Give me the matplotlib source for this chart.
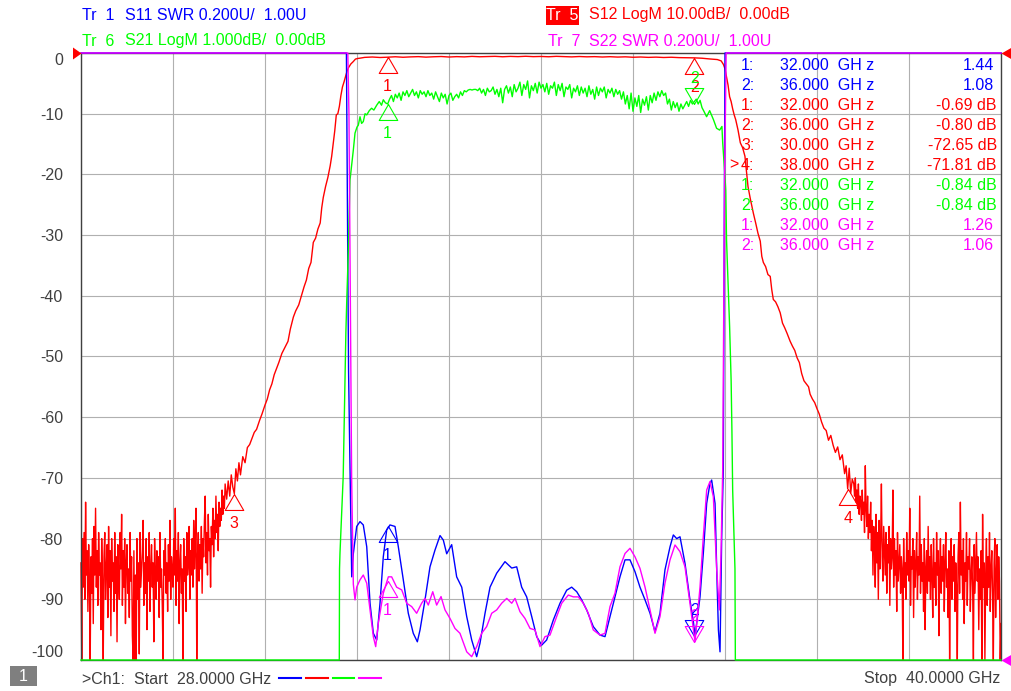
import numpy as np
import matplotlib.pyplot as plt
from matplotlib.patches import Rectangle, Polygon
from matplotlib.lines import Line2D

plt.rcParams['font.family'] = ['Liberation Sans', 'DejaVu Sans']

W, H = 1012, 691
BLUE = '#0000ff'
RED = '#ff0000'
GREEN = '#00ff00'
MAGENTA = '#ff00ff'
GREY = '#404040'
FS = 11.5

f_start, f_stop = 28.0, 40.0

# ---- Tr 5: S12 LogM (dB), 10 dB/div, ref 0 dB at top ----
# noise floor below the passband, read every 0.01 GHz
s12_noise_lo = [-84, -101, -80, -88, -79, -90, -74, -86, -82, -92,
                -81, -87, -101, -83, -89, -80, -94, -78, -86, -75,
                -88, -82, -91, -79, -86, -84, -95, -80, -87, -101,
                -83, -79, -90, -85, -81, -93, -78, -88, -82, -96,
                -80, -87, -84, -92, -79, -89, -83, -97, -81, -86,
                -90, -79, -85, -76, -91, -82, -88, -80, -94, -84,
                -81, -89, -85, -93, -79, -87, -83, -96, -101, -82,
                -101, -86, -101, -80, -90, -84, -99, -79, -88, -85,
                -82, -77, -91, -84, -89, -80, -95, -83, -87, -79,
                -92, -85, -81, -88, -84, -97, -80, -86, -90, -82,
                -87, -83, -93, -79, -88, -85, -91, -101, -82, -86,
                -80, -89, -84, -92, -81, -87, -77, -90, -83, -85,
                -88, -80, -86, -75, -91, -82, -87, -79, -94, -84,
                -81, -89, -85, -101, -80, -87, -83, -92, -79, -86,
                -84, -78, -90, -82, -86, -80, -88, -77, -85, -81,
                -75, -101, -83, -79, -87, -81, -85, -78, -89, -80,
                -83, -77, -73, -84, -79, -86, -76, -82, -80, -88,
                -78, -81, -75, -83, -77, -80, -73, -79, -76, -82,
                -74, -78, -75, -77, -72, -76, -73, -75, -71]
s12_noise_lo_f = np.linspace(28.0, 29.88, len(s12_noise_lo))

s12_skirt_lo_f = [29.90, 29.92, 29.94, 29.96, 29.98, 30.00, 30.02, 30.04, 30.06, 30.08,
                  30.11, 30.14, 30.17, 30.20, 30.23, 30.26, 30.29, 30.33, 30.36, 30.40,
                  30.43, 30.46, 30.49, 30.52, 30.55, 30.58, 30.62, 30.66, 30.70, 30.73,
                  30.77, 30.80, 30.84, 30.88, 30.91, 30.94, 30.97, 31.00, 31.03, 31.06,
                  31.09, 31.12, 31.14, 31.16, 31.19, 31.22, 31.25, 31.27, 31.29, 31.31,
                  31.33, 31.35, 31.37, 31.39, 31.41, 31.43, 31.45, 31.47, 31.49, 31.52,
                  31.55, 31.58, 31.61, 31.64]
s12_skirt_lo = [-73.5, -70.5, -73, -69.5, -71.5, -72.6, -68.5, -70.5, -67.5, -69.5,
                -66.5, -67.5, -65, -64.5, -63.5, -62.5, -62, -60.5, -59.5, -58,
                -57, -55.5, -54.5, -53, -52, -51, -49.5, -48.5, -47.5, -45.5,
                -43.5, -42.5, -41.5, -39.8, -38.5, -37.4, -35.5, -34.5, -31.2, -30.5,
                -29, -28, -25.5, -23.8, -22, -20.5, -18.6, -17, -14.9, -12.8,
                -10.2, -10, -8.8, -7, -5.6, -4.8, -3.9, -3.0, -2.4, -1.8,
                -1.43, -1.0, -0.9, -0.85]

s12_pass = [-0.72, -0.66, -0.74, -0.69, -0.62, -0.70, -0.64, -0.60, -0.68, -0.62,
            -0.58, -0.66, -0.60, -0.64, -0.56, -0.62, -0.58, -0.55, -0.62, -0.56,
            -0.60, -0.54, -0.60, -0.57, -0.62, -0.55, -0.60, -0.64, -0.58, -0.63,
            -0.60, -0.66, -0.61, -0.67, -0.63, -0.70, -0.66, -0.72, -0.68, -0.74,
            -0.70, -0.76, -0.78, -0.80, -0.86, -0.98, -1.08]
s12_pass_f = np.linspace(31.7, 36.3, len(s12_pass))

s12_skirt_hi_f = [36.35, 36.38, 36.40, 36.42, 36.44, 36.46, 36.48, 36.50, 36.52, 36.54,
                  36.57, 36.60, 36.63, 36.66, 36.68, 36.70, 36.73, 36.77, 36.80, 36.83,
                  36.86, 36.88, 36.90, 36.93, 36.96, 36.99, 37.01, 37.03, 37.06, 37.09,
                  37.12, 37.15, 37.18, 37.21, 37.25, 37.28, 37.31, 37.34, 37.37, 37.40,
                  37.43, 37.46, 37.49, 37.51, 37.54, 37.57, 37.60, 37.63, 37.66, 37.69,
                  37.72, 37.75, 37.78, 37.81, 37.84, 37.87, 37.90, 37.93, 37.96, 37.98,
                  38.00, 38.02, 38.04, 38.06]
s12_skirt_hi = [-1.3, -1.9, -2.6, -4.0, -5.3, -7.2, -8.0, -9.2, -10.2, -11.0,
                -12.7, -14.8, -15.6, -17.0, -19.5, -22.0, -24.0, -26.4, -28.0, -29.7,
                -31.0, -33.5, -34.5, -35.2, -36.5, -36.8, -39.0, -40.6, -41.0, -41.8,
                -42.8, -44.5, -45.3, -46.2, -47.5, -48.3, -49.0, -50.2, -51.0, -52.8,
                -54.0, -54.5, -55.0, -56.2, -57.0, -57.6, -58.6, -59.5, -60.8, -61.8,
                -62.2, -63.8, -63.0, -64.6, -65.8, -64.9, -67.0, -66.2, -69.3, -68.0,
                -71.8, -68.4, -72.5, -70.2]

# noise floor above the passband, read every 0.01 GHz
s12_noise_hi = [-71, -73, -70, -74, -72, -75, -71, -76, -73, -74,
                -77, -72, -76, -74, -79, -68, -75, -78, -73, -80,
                -76, -79, -74, -82, -77, -86, -78, -81, -88, -76,
                -84, -79, -90, -77, -85, -80, -71, -83, -87, -78,
                -82, -86, -79, -89, -81, -84, -78, -91, -80, -85,
                -83, -72, -88, -80, -86, -82, -92, -79, -87, -84,
                -81, -89, -83, -85, -101, -80, -88, -84, -90, -79,
                -86, -82, -87, -75, -91, -83, -85, -80, -93, -82,
                -88, -84, -79, -90, -83, -86, -73, -89, -81, -87,
                -84, -92, -80, -95, -85, -82, -89, -78, -87, -83,
                -90, -81, -86, -93, -80, -88, -84, -91, -79, -86,
                -82, -96, -85, -80, -89, -83, -87, -81, -92, -84,
                -79, -88, -85, -93, -82, -101, -86, -80, -90, -83,
                -87, -81, -92, -84, -88, -101, -83, -79, -89, -74,
                -86, -82, -90, -80, -94, -84, -87, -79, -91, -83,
                -85, -80, -92, -86, -83, -88, -101, -81, -89, -84,
                -79, -87, -83, -95, -85, -90, -82, -101, -76, -88,
                -84, -101, -86, -80, -91, -83, -88, -79, -92, -85,
                -82, -89, -101, -84, -80, -93, -86, -81, -90, -83,
                -87, -101, -94]
s12_noise_hi_f = np.linspace(38.08, 40.0, len(s12_noise_hi))

# ---- Tr 6: S21 LogM (dB), 1 dB/div, ref 0 dB at top ----
s21_edge_lo_f = [28.0, 31.369, 31.372, 31.378, 31.40, 31.42, 31.44, 31.455, 31.466, 31.487,
                 31.509, 31.53, 31.552, 31.574, 31.60, 31.617, 31.639, 31.66, 31.682, 31.705,
                 31.727, 31.76, 31.79, 31.82, 31.857, 31.89, 31.92, 31.943, 31.97, 32.0]
s21_edge_lo = [-10.5, -10.5, -8.5, -8.24, -7.6, -6.98, -5.6, -4.6, -4.1, -3.25,
               -2.09, -1.85, -1.6, -1.32, -1.22, -1.19, -1.05, -1.16, -1.13, -1.0,
               -1.02, -0.95, -0.91, -0.94, -0.86, -0.80, -0.86, -0.77, -0.82, -0.84]
s21_pass = [-0.76, -0.70, -0.80, -0.68, -0.74, -0.66, -0.78, -0.64, -0.70, -0.62,
            -0.72, -0.66, -0.60, -0.70, -0.64, -0.74, -0.62, -0.68, -0.64, -0.72,
            -0.62, -0.70, -0.66, -0.76, -0.64, -0.72, -0.80, -0.66, -0.74, -0.68,
            -0.84, -0.70, -0.66, -0.78, -0.72, -0.68, -0.74, -0.64, -0.70, -0.62,
            -0.64, -0.61, -0.60, -0.61, -0.60, -0.60, -0.62, -0.58, -0.66, -0.60,
            -0.70, -0.58, -0.64, -0.62, -0.56, -0.68, -0.60, -0.72, -0.58, -0.82,
            -0.60, -0.54, -0.66, -0.56, -0.72, -0.52, -0.64, -0.58, -0.48, -0.70,
            -0.52, -0.60, -0.46, -0.74, -0.54, -0.62, -0.50, -0.66, -0.48, -0.58,
            -0.52, -0.64, -0.50, -0.68, -0.54, -0.58, -0.48, -0.70, -0.52, -0.62,
            -0.50, -0.72, -0.56, -0.60, -0.52, -0.74, -0.58, -0.64, -0.54, -0.70,
            -0.56, -0.66, -0.58, -0.72, -0.54, -0.68, -0.60, -0.76, -0.56, -0.70,
            -0.58, -0.64, -0.56, -0.74, -0.60, -0.66, -0.58, -0.72, -0.60, -0.68,
            -0.62, -0.76, -0.64, -0.84, -0.70, -0.92, -0.66, -0.96, -0.74, -0.88,
            -0.70, -0.98, -0.76, -0.86, -0.72, -0.94, -0.70, -0.82, -0.66, -0.78,
            -0.64, -0.72, -0.62, -0.70, -0.66, -0.84, -0.76, -0.94, -0.80, -0.90,
            -0.82, -0.96, -0.84, -0.92, -0.86, -0.80, -0.88, -0.78, -0.84, -0.80,
            -0.76, -0.84, -0.78, -0.90, -0.96]
s21_pass_f = np.linspace(32.025, 36.125, len(s21_pass))
s21_edge_hi_f = [36.16, 36.20, 36.25, 36.29, 36.33, 36.36, 36.37, 36.40, 36.41, 36.42,
                 36.44, 36.46, 36.48, 36.49, 36.50, 36.53, 36.535, 40.0]
s21_edge_hi = [-1.05, -0.95, -1.1, -1.24, -1.27, -1.21, -1.48, -2.04, -2.26, -3.08,
               -3.8, -4.5, -5.4, -6.2, -7.2, -8.5, -10.5, -10.5]

# ---- Tr 1: S11 SWR, 0.2 U/div, ref 1.00 U at bottom ----
s11_f = [28.0, 31.462, 31.475, 31.49, 31.509, 31.531, 31.552, 31.596, 31.639, 31.682,
         31.727, 31.77, 31.813, 31.857, 31.90, 31.943, 31.987, 32.03, 32.096, 32.139,
         32.204, 32.269, 32.334, 32.387, 32.422, 32.487, 32.552, 32.617, 32.683, 32.726,
         32.77, 32.835, 32.90, 32.966, 33.031, 33.096, 33.161, 33.204, 33.27, 33.335,
         33.422, 33.53, 33.618, 33.683, 33.748, 33.813, 33.879, 33.944, 34.009, 34.074,
         34.161, 34.248, 34.335, 34.40, 34.466, 34.531, 34.596, 34.682, 34.77, 34.835,
         34.90, 34.965, 35.03, 35.096, 35.161, 35.226, 35.291, 35.357, 35.422, 35.487,
         35.552, 35.617, 35.683, 35.726, 35.77, 35.813, 35.878, 35.943, 35.99, 36.009,
         36.03, 36.074, 36.117, 36.161, 36.204, 36.226, 36.27, 36.292, 36.314, 36.335,
         36.357, 36.378, 36.39, 36.40, 40.0]
s11_swr = [3.5, 3.5, 2.5, 1.95, 1.63, 1.274, 1.35, 1.44, 1.456, 1.445,
           1.373, 1.187, 1.088, 1.066, 1.187, 1.34, 1.428, 1.445, 1.44, 1.373,
           1.264, 1.154, 1.088, 1.06, 1.099, 1.198, 1.307, 1.362, 1.41, 1.395,
           1.35, 1.38, 1.274, 1.24, 1.143, 1.066, 1.011, 1.055, 1.154, 1.24,
           1.286, 1.324, 1.303, 1.307, 1.24, 1.208, 1.143, 1.077, 1.049, 1.066,
           1.132, 1.187, 1.23, 1.24, 1.225, 1.198, 1.165, 1.11, 1.082, 1.077,
           1.143, 1.208, 1.274, 1.33, 1.33, 1.291, 1.24, 1.198, 1.154, 1.093,
           1.154, 1.297, 1.373, 1.412, 1.40, 1.406, 1.319, 1.198, 1.121, 1.078,
           1.12, 1.208, 1.351, 1.516, 1.582, 1.593, 1.516, 1.297, 1.099, 1.027,
           1.406, 1.626, 2.4, 3.5, 3.5]

# ---- Tr 7: S22 SWR, 0.2 U/div, ref 1.00 U at bottom ----
s22_f = [28.0, 31.48, 31.495, 31.51, 31.53, 31.552, 31.574, 31.596, 31.639, 31.682,
         31.727, 31.77, 31.813, 31.844, 31.878, 31.943, 32.009, 32.052, 32.117, 32.183,
         32.248, 32.313, 32.378, 32.443, 32.487, 32.53, 32.588, 32.639, 32.696, 32.748,
         32.813, 32.878, 32.943, 33.031, 33.096, 33.161, 33.226, 33.291, 33.357, 33.422,
         33.487, 33.553, 33.618, 33.661, 33.726, 33.791, 33.857, 33.922, 33.987, 34.052,
         34.117, 34.204, 34.27, 34.356, 34.422, 34.487, 34.552, 34.617, 34.682, 34.77,
         34.835, 34.90, 34.965, 35.03, 35.096, 35.161, 35.226, 35.291, 35.357, 35.422,
         35.487, 35.552, 35.617, 35.683, 35.748, 35.813, 35.878, 35.943, 36.009, 36.074,
         36.117, 36.161, 36.204, 36.248, 36.292, 36.326, 36.348, 36.37, 36.395, 36.415,
         40.0]
s22_swr = [3.5, 3.5, 2.8, 2.3, 1.6, 1.25, 1.198, 1.24, 1.264, 1.28,
           1.253, 1.165, 1.077, 1.044, 1.121, 1.22, 1.274, 1.274, 1.24, 1.231,
           1.187, 1.176, 1.154, 1.187, 1.203, 1.181, 1.225, 1.181, 1.209, 1.165,
           1.137, 1.104, 1.088, 1.027, 1.011, 1.044, 1.088, 1.11, 1.154, 1.165,
           1.187, 1.203, 1.187, 1.203, 1.159, 1.137, 1.104, 1.099, 1.044, 1.077,
           1.082, 1.143, 1.187, 1.214, 1.208, 1.208, 1.187, 1.154, 1.099, 1.082,
           1.088, 1.176, 1.22, 1.307, 1.351, 1.368, 1.34, 1.302, 1.24, 1.165,
           1.088, 1.143, 1.253, 1.33, 1.379, 1.357, 1.307, 1.187, 1.06, 1.24,
           1.406, 1.56, 1.588, 1.538, 1.297, 1.165, 1.351, 1.626, 2.6, 3.5,
           3.5]

# ---- marker readouts ----
mk_f_s11 = [32.0, 36.0]
mk_s11 = [1.44, 1.08]
mk_f_s12 = [32.0, 36.0, 30.0, 38.0]
mk_s12 = [-0.69, -0.80, -72.65, -71.81]
mk_f_s21 = [32.0, 36.0]
mk_s21 = [-0.84, -0.84]
mk_f_s22 = [32.0, 36.0]
mk_s22 = [1.26, 1.06]

yticks = list(range(-100, 1, 10))

fig = plt.figure(figsize=(W / 100, H / 100), dpi=100)
fig.patch.set_facecolor('white')
ax = fig.add_axes([81 / W, 31 / H, 920 / W, 607 / H])
ax.set_xlim(f_start, f_stop)
ax.set_ylim(-100, 0)
ax.set_xticks(np.linspace(f_start, f_stop, 11))
ax.set_xticklabels([])
ax.set_yticks(yticks)
ax.set_yticklabels([str(v) for v in yticks])
ax.tick_params(length=0)
ax.tick_params(axis='y', pad=13, labelsize=FS, labelcolor=GREY)
ax.grid(True, color='#b0b0b0', lw=0.8)
for sp in ax.spines.values():
    sp.set_color(GREY)
    sp.set_linewidth(1.0)
labels = ax.get_yticklabels()
labels[0].set_va('bottom')
labels[-1].set_va('top')

ax11 = ax.twinx()
ax21 = ax.twinx()
ax22 = ax.twinx()
for a, lim in ((ax11, (1, 3)), (ax21, (-10, 0)), (ax22, (1, 3))):
    a.set_ylim(*lim)
    a.axis('off')

s12_f = np.concatenate([s12_noise_lo_f, s12_skirt_lo_f, s12_pass_f, s12_skirt_hi_f, s12_noise_hi_f])
s12 = np.concatenate([s12_noise_lo, s12_skirt_lo, s12_pass, s12_skirt_hi, s12_noise_hi])
s21_f = np.concatenate([s21_edge_lo_f, s21_pass_f, s21_edge_hi_f])
s21 = np.concatenate([s21_edge_lo, s21_pass, s21_edge_hi])

lw = 1.0
ax.plot(s12_f, np.clip(s12, -100, 0), color=RED, lw=lw, clip_on=False)
ax11.plot(s11_f, np.clip(s11_swr, 1, 3), color=BLUE, lw=lw, clip_on=False)
ax21.plot(s21_f, np.clip(s21, -10, 0), color=GREEN, lw=lw, clip_on=False)
ax22.plot(s22_f, np.clip(s22_swr, 1, 3), color=MAGENTA, lw=lw, clip_on=False)

UP = [(0, 0), (-0.58, -1), (0.58, -1), (0, 0)]
DOWN = [(0, 0), (-0.58, 1), (0.58, 1), (0, 0)]


def marker(axis, f, v, color, label, up=True):
    axis.plot([f], [v], ls='none', marker=UP if up else DOWN, ms=23,
              mfc='none', mec=color, mew=0.8, clip_on=False)
    axis.annotate(label, (f, v), xytext=(0, -21 if up else 18),
                  textcoords='offset points', ha='center', va='center',
                  color=color, fontsize=FS)


marker(ax11, mk_f_s11[0], mk_s11[0], BLUE, '1')
marker(ax11, mk_f_s11[1], mk_s11[1], BLUE, '2', up=False)
for i in range(4):
    marker(ax, mk_f_s12[i], mk_s12[i], RED, str(i + 1))
marker(ax21, mk_f_s21[0], mk_s21[0], GREEN, '1')
marker(ax21, mk_f_s21[1], mk_s21[1], GREEN, '2', up=False)
marker(ax22, mk_f_s22[0], mk_s22[0], MAGENTA, '1')
marker(ax22, mk_f_s22[1], mk_s22[1], MAGENTA, '2', up=False)


def px(x, y):
    return x / W, 1 - y / H


def ftext(x, y, s, color=GREY, ha='left', **kw):
    fig.text(*px(x, y), s, color=color, ha=ha, va='center', fontsize=FS, **kw)


# header
ftext(82, 15, 'Tr  1', BLUE)
ftext(125, 15, 'S11 SWR 0.200U/  1.00U', BLUE)
ftext(82, 41, 'Tr  6', GREEN)
ftext(125, 41, 'S21 LogM 1.000dB/  0.00dB', GREEN)
fig.add_artist(Rectangle(px(546, 25), 33 / W, 19 / H, transform=fig.transFigure,
                         facecolor=RED, edgecolor='none'))
ftext(562.5, 15, 'Tr  5', 'white', ha='center')
ftext(589, 15, 'S12 LogM 10.00dB/  0.00dB', RED)
ftext(548, 41, 'Tr  7', MAGENTA)
ftext(589, 41, 'S22 SWR 0.200U/  1.00U', MAGENTA)

# marker table
rows = []
for f, v in zip(mk_f_s11, mk_s11):
    rows.append((f, f'{v:.2f}', BLUE))
for f, v in zip(mk_f_s12, mk_s12):
    rows.append((f, f'{v:.2f} dB', RED))
for f, v in zip(mk_f_s21, mk_s21):
    rows.append((f, f'{v:.2f} dB', GREEN))
for f, v in zip(mk_f_s22, mk_s22):
    rows.append((f, f'{v:.2f}', MAGENTA))
idx = [1, 2, 1, 2, 3, 4, 1, 2, 1, 2]
for k, (f, val, c) in enumerate(rows):
    y = 65 + 20 * k
    ftext(741, y, f'{idx[k]}:', c)
    ftext(780, y, f'{f:.3f}  GH z', c)
    ftext(997 if 'dB' in val else 994, y, val, c, ha='right')
ftext(729, 165, '>', RED)

# reference position arrows
fig.add_artist(Polygon([px(73, 47.5), px(81.5, 53.5), px(73, 59.5)], closed=True,
                       transform=fig.transFigure, facecolor=RED, edgecolor='none'))
fig.add_artist(Polygon([px(1012, 47.5), px(1001.5, 53.5), px(1012, 59.5)], closed=True,
                       transform=fig.transFigure, facecolor=RED, edgecolor='none'))
fig.add_artist(Polygon([px(1012, 654.5), px(1001.5, 660.5), px(1012, 666.5)], closed=True,
                       transform=fig.transFigure, facecolor=MAGENTA, edgecolor='none'))

# status bar
fig.add_artist(Rectangle(px(10, 686), 27 / W, 20 / H, transform=fig.transFigure,
                         facecolor='#7f7f7f', edgecolor='none'))
ftext(23.5, 676.5, '1', 'white', ha='center')
ftext(82, 679, '>Ch1:  Start  28.0000 GHz')
for (x0, x1), c in zip([(279, 301), (306, 328), (333, 354), (359, 381)],
                       [BLUE, RED, GREEN, MAGENTA]):
    fig.add_artist(Line2D([x0 / W, x1 / W], [1 - 678 / H] * 2, transform=fig.transFigure,
                          color=c, lw=1.5))
ftext(1000, 679, 'Stop  40.0000 GHz', ha='right')

fig.savefig('out.png', dpi=100)
